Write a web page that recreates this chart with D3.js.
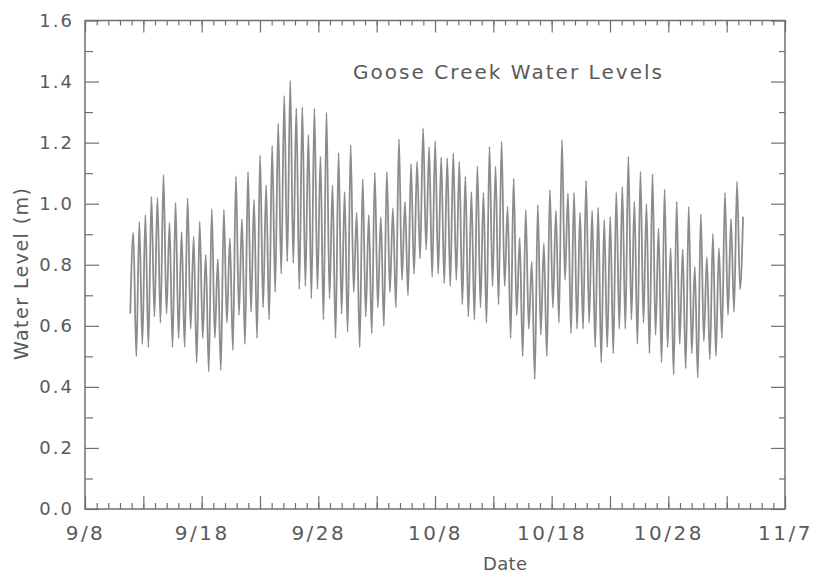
<!DOCTYPE html>
<html>
<head>
<meta charset="utf-8">
<script src="https://cdn.jsdelivr.net/npm/d3@7"></script>
<style>
  body { margin: 0; background: #ffffff; }
  text { font-family: "DejaVu Sans", sans-serif; fill: #5a5a5a; }
</style>
</head>
<body>
<div id="vis"></div>
<script>
//###############################################################
// Goose Creek water levels, Sept - Nov
// values: one high and one low per
// semi-diurnal tide (about 12.42 h apart)
//###############################################################
const HIGHS = [
  0.905, 0.94, 0.963, 1.023, 1.02, 1.094, 0.938, 1.003, 0.908, 1.018,
  0.892, 0.941, 0.832, 0.982, 0.818, 0.98, 0.886, 1.09, 0.949, 1.105,
  1.014, 1.159, 1.061, 1.189, 1.263, 1.353, 1.403, 1.312, 1.316, 1.225,
  1.312, 1.154, 1.298, 1.061, 1.167, 1.039, 1.192, 0.971, 1.08, 0.963,
  1.102, 0.957, 1.105, 0.985, 1.211, 1.007, 1.13, 1.138, 1.247, 1.185,
  1.205, 1.152, 1.149, 1.165, 1.138, 1.089, 1.039, 1.123, 1.036, 1.187,
  1.121, 1.203, 0.99, 1.083, 0.887, 0.979, 0.81, 0.996, 0.87, 1.045,
  0.977, 1.209, 1.034, 1.036, 0.971, 1.075, 0.977, 0.988, 0.947, 0.957,
  1.036, 1.056, 1.154, 1.007, 1.105, 0.999, 1.097, 0.919, 1.047, 0.854,
  1.007, 0.85, 0.99, 0.794, 0.966, 0.826, 0.901, 0.854, 1.036, 0.949,
  1.072, 0.957
];
const LOWS = [
  0.50, 0.54, 0.53, 0.63, 0.61, 0.64, 0.53, 0.56, 0.53, 0.59,
  0.48, 0.56, 0.45, 0.56, 0.455, 0.61, 0.52, 0.635, 0.54, 0.645,
  0.56, 0.66, 0.62, 0.71, 0.77, 0.81, 0.805, 0.72, 0.73, 0.69,
  0.72, 0.62, 0.69, 0.56, 0.64, 0.58, 0.71, 0.53, 0.63, 0.575,
  0.66, 0.60, 0.71, 0.66, 0.75, 0.70, 0.77, 0.82, 0.85, 0.76,
  0.77, 0.74, 0.73, 0.75, 0.67, 0.63, 0.62, 0.66, 0.61, 0.73,
  0.67, 0.73, 0.56, 0.635, 0.50, 0.59, 0.425, 0.57, 0.50, 0.66,
  0.61, 0.75, 0.575, 0.59, 0.59, 0.61, 0.53, 0.48, 0.53, 0.51,
  0.59, 0.59, 0.62, 0.54, 0.61, 0.51, 0.57, 0.48, 0.53, 0.44,
  0.54, 0.46, 0.51, 0.43, 0.55, 0.49, 0.50, 0.56, 0.635, 0.645,
  0.72
];
const START_LEVEL = 0.64;                         // level when the record starts
const FIRST_HIGH = Date.UTC(1998, 8, 12, 3, 20);  // first high water, 9/12
const HALF_TIDE_HOURS = 6.21;

const X_LABELS = ["9/8", "9/18", "9/28", "10/8", "10/18", "10/28", "11/7"];
const Y_LABELS = [0.0, 0.2, 0.4, 0.6, 0.8, 1.0, 1.2, 1.4, 1.6];
const TITLE = "Goose Creek Water Levels";

const FRAME_WIDTH = 813;
const FRAME_HEIGHT = 576;
const MARGINS = {left: 85, right: 28, top: 20.5, bottom: 67};
const VIS_WIDTH = FRAME_WIDTH - MARGINS.left - MARGINS.right;
const VIS_HEIGHT = FRAME_HEIGHT - MARGINS.top - MARGINS.bottom;
const AXIS_COLOR = "#707070";

const FRAME = d3.select("#vis")
  .append("svg")
    .attr("width", FRAME_WIDTH)
    .attr("height", FRAME_HEIGHT);

// build the point list: start, then high/low alternating
const HALF_MS = HALF_TIDE_HOURS * 3600 * 1000;
const points = [{t: new Date(FIRST_HIGH - HALF_MS), v: START_LEVEL}];
HIGHS.forEach((h, i) => {
  points.push({t: new Date(FIRST_HIGH + 2 * i * HALF_MS), v: h});
  if (i < LOWS.length) {
    points.push({t: new Date(FIRST_HIGH + (2 * i + 1) * HALF_MS), v: LOWS[i]});
  }
});

const parseDay = (s) => {
  const [m, d] = s.split("/").map(Number);
  return new Date(Date.UTC(1998, m - 1, d));
};
const X_TICKS = X_LABELS.map(parseDay);

const X_SCALE = d3.scaleUtc()
  .domain([X_TICKS[0], X_TICKS[X_TICKS.length - 1]])
  .range([MARGINS.left, MARGINS.left + VIS_WIDTH]);
const Y_SCALE = d3.scaleLinear()
  .domain([0, 1.6])
  .range([MARGINS.top + VIS_HEIGHT, MARGINS.top]);

const days = d3.utcDay.range(X_TICKS[0], d3.utcDay.offset(X_TICKS[X_TICKS.length - 1], 1));
const fiveDays = days.filter((d, i) => i % 5 == 0);
const minorY = d3.range(1, 16, 2).map(d => d / 10);

// helper for tick-only axes
function tickAxis(axis, tx, ty) {
  const g = FRAME.append("g")
    .attr("transform", "translate(" + tx + "," + ty + ")")
    .call(axis.tickFormat(""));
  g.select(".domain").remove();
  g.selectAll("line").attr("stroke", AXIS_COLOR).attr("stroke-width", 1.2);
  return g;
}

const bottomY = MARGINS.top + VIS_HEIGHT;
const rightX = MARGINS.left + VIS_WIDTH;

// bottom and top date ticks (pointing inward)
tickAxis(d3.axisTop(X_SCALE).tickValues(days).tickSize(6), 0, bottomY);
tickAxis(d3.axisTop(X_SCALE).tickValues(fiveDays).tickSize(13), 0, bottomY);
tickAxis(d3.axisBottom(X_SCALE).tickValues(days).tickSize(5), 0, MARGINS.top);
tickAxis(d3.axisBottom(X_SCALE).tickValues(fiveDays).tickSize(12), 0, MARGINS.top);

// left and right level ticks
tickAxis(d3.axisRight(Y_SCALE).tickValues(Y_LABELS).tickSize(14), MARGINS.left, 0);
tickAxis(d3.axisRight(Y_SCALE).tickValues(minorY).tickSize(8), MARGINS.left, 0);
tickAxis(d3.axisLeft(Y_SCALE).tickValues(Y_LABELS).tickSize(14), rightX, 0);
tickAxis(d3.axisLeft(Y_SCALE).tickValues(minorY).tickSize(6), rightX, 0);

// tick labels
const xLab = FRAME.append("g")
  .attr("transform", "translate(0," + bottomY + ")")
  .call(d3.axisBottom(X_SCALE).tickValues(X_TICKS).tickSize(0).tickPadding(17)
    .tickFormat(d3.utcFormat("%-m/%-d")));
xLab.select(".domain").remove();
xLab.selectAll("text")
  .attr("font-size", "20px")
  .attr("letter-spacing", "2.5px")
  .attr("font-family", null)
  .attr("fill", null);

const yLab = FRAME.append("g")
  .attr("transform", "translate(" + MARGINS.left + ",0)")
  .call(d3.axisLeft(Y_SCALE).tickValues(Y_LABELS).tickSize(0).tickPadding(11)
    .tickFormat(d3.format(".1f")));
yLab.select(".domain").remove();
yLab.selectAll("text")
  .attr("font-size", "18px")
  .attr("letter-spacing", "2px")
  .attr("font-family", null)
  .attr("fill", null);

// frame
FRAME.append("rect")
  .attr("x", MARGINS.left)
  .attr("y", MARGINS.top)
  .attr("width", VIS_WIDTH)
  .attr("height", VIS_HEIGHT)
  .attr("fill", "none")
  .attr("stroke", AXIS_COLOR)
  .attr("stroke-width", 1.5);

// the tide record
const line = d3.line()
  .x(d => X_SCALE(d.t))
  .y(d => Y_SCALE(d.v))
  .curve(d3.curveMonotoneX);

FRAME.append("path")
  .datum(points)
  .attr("d", line)
  .attr("fill", "none")
  .attr("stroke", "#8c8c8c")
  .attr("stroke-width", 1.8);

// title and axis names
FRAME.append("text")
  .attr("x", 353)
  .attr("y", 79)
  .attr("font-size", "20px")
  .attr("textLength", 309)
  .attr("lengthAdjust", "spacing")
  .text(TITLE);

FRAME.append("text")
  .attr("x", 483)
  .attr("y", 570)
  .attr("font-size", "18px")
  .attr("textLength", 44)
  .attr("lengthAdjust", "spacing")
  .text("Date");

FRAME.append("text")
  .attr("transform", "translate(28,274) rotate(-90)")
  .attr("text-anchor", "middle")
  .attr("font-size", "19px")
  .attr("textLength", 172)
  .attr("lengthAdjust", "spacing")
  .text("Water Level (m)");
</script>
</body>
</html>
